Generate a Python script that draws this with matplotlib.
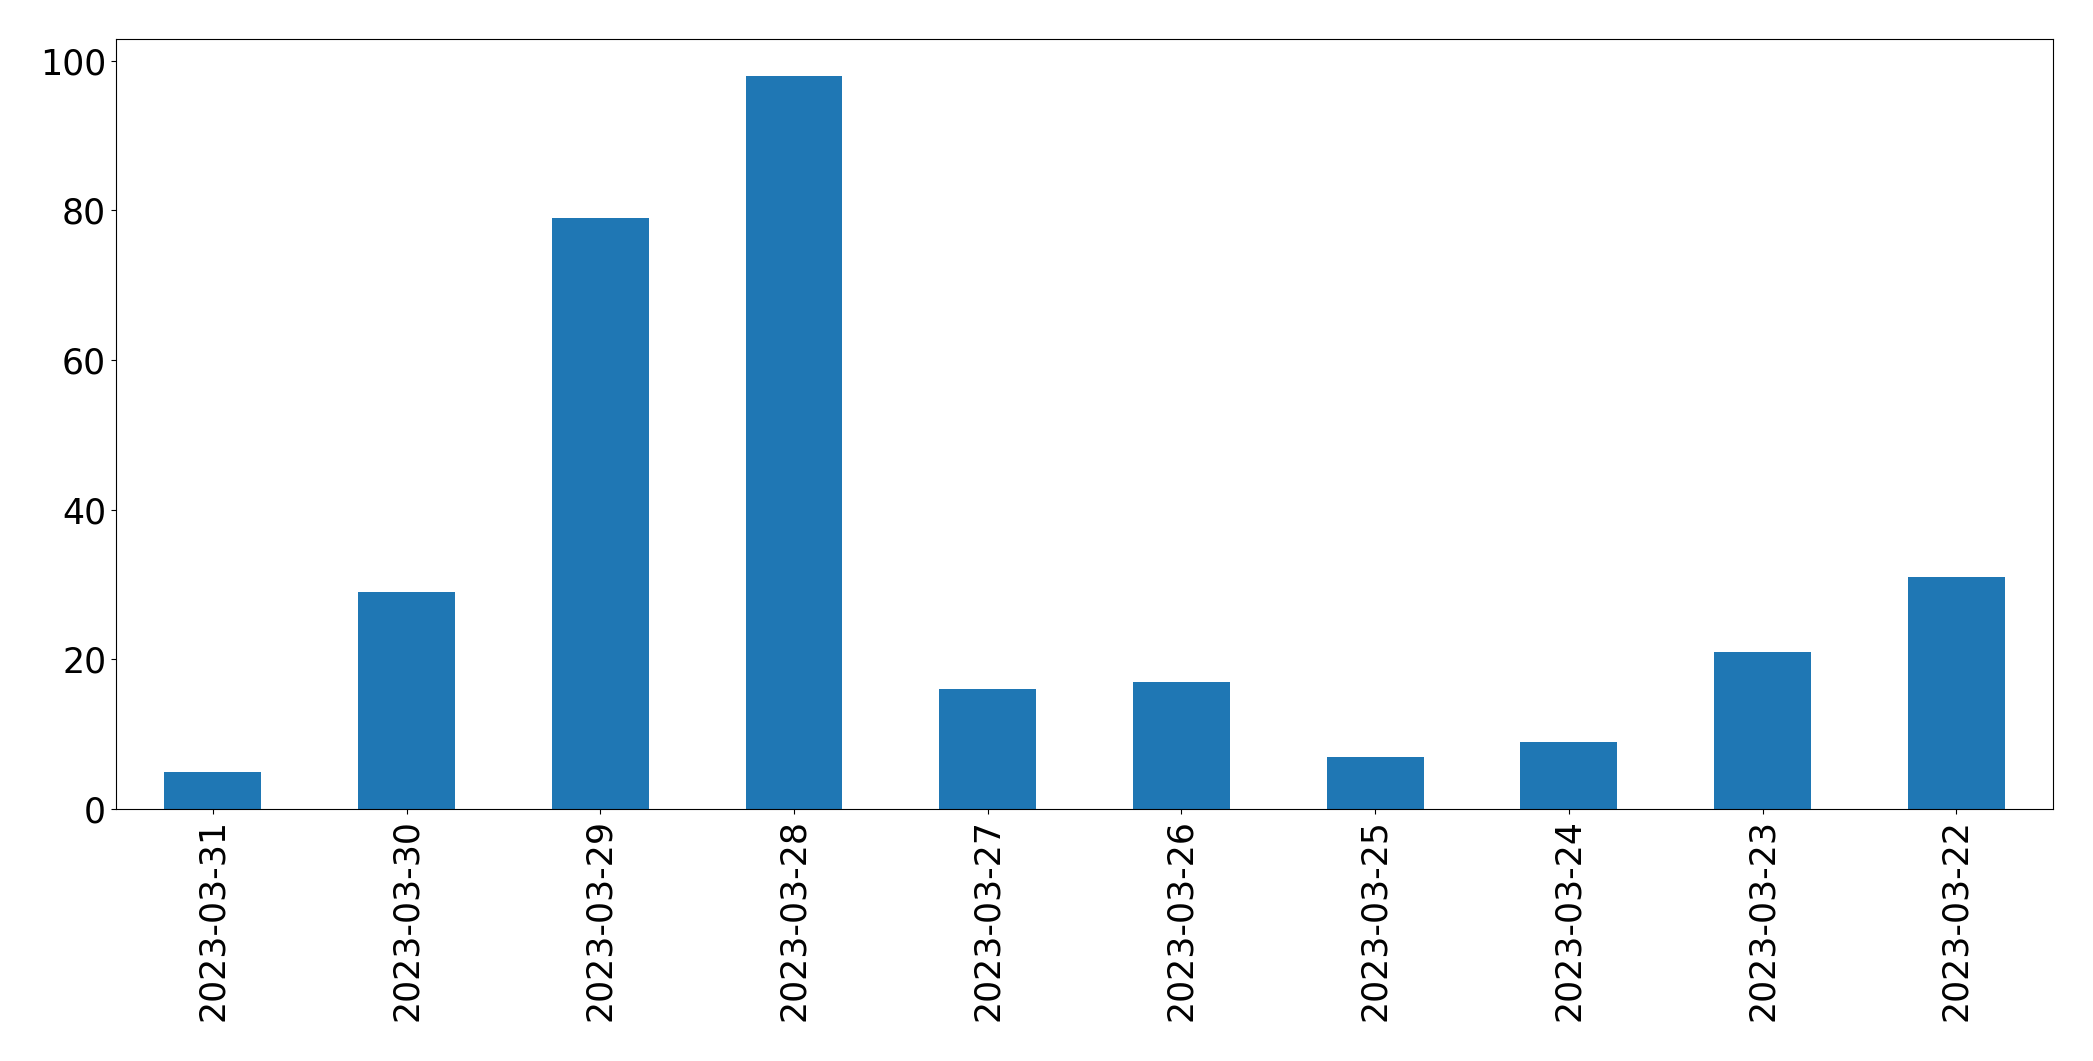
import matplotlib
matplotlib.use('Agg')
import matplotlib.pyplot as plt
import numpy as np

dates = ['2023-03-31', '2023-03-30', '2023-03-29', '2023-03-28', '2023-03-27',
         '2023-03-26', '2023-03-25', '2023-03-24', '2023-03-23', '2023-03-22']
counts = [5, 29, 79, 98, 16, 17, 7, 9, 21, 31]

fig = plt.figure(figsize=(20.93, 10.61), dpi=100)
ax = fig.add_axes([0.0554, 0.2375, 0.9256, 0.7257])

x = np.arange(len(dates))
ax.bar(x, counts, width=0.5, color='#1f77b4')
ax.set_xlim(-0.5, len(dates) - 0.5)
ax.set_ylim(0, max(counts) * 1.05)
ax.set_xticks(x)
ax.set_xticklabels(dates, rotation=90)
ax.tick_params(axis='both', labelsize=25)

fig.savefig('out.png', dpi=100)
